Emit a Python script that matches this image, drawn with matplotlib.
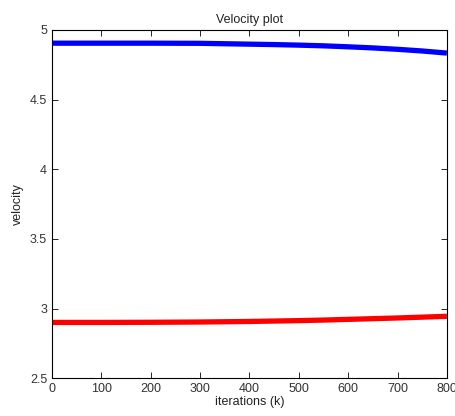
import numpy as np
import matplotlib
matplotlib.use("Agg")
from matplotlib import pyplot as plt

plt.rcParams['font.family'] = ['Liberation Sans', 'DejaVu Sans']

# iterations and velocities
iterations = [0, 100, 200, 300, 350, 400, 450, 500, 550, 600, 650, 700, 750, 800]
vel_blue = [4.905, 4.905, 4.905, 4.904, 4.901, 4.898, 4.895, 4.891, 4.886, 4.879, 4.871, 4.861, 4.849, 4.834]
vel_red = [2.900, 2.900, 2.901, 2.903, 2.905, 2.907, 2.910, 2.913, 2.917, 2.922, 2.927, 2.932, 2.938, 2.944]

xticks = [0, 100, 200, 300, 400, 500, 600, 700, 800]
yticks = [2.5, 3, 3.5, 4, 4.5, 5]
yticklabels = ['2.5', '3', '3.5', '4', '4.5', '5']

fig = plt.figure(figsize=(4.56, 4.16), dpi=100)
ax = fig.add_axes([0.114, 0.091, 0.866, 0.837])

ax.plot(iterations, vel_blue, color='#0000ff', linewidth=3.8, solid_capstyle='butt')
ax.plot(iterations, vel_red, color='#ff0000', linewidth=3.8, solid_capstyle='butt')

ax.set_xlim(0, 800)
ax.set_ylim(2.5, 5)
ax.set_xticks(xticks)
ax.set_yticks(yticks)
ax.set_yticklabels(yticklabels)
ax.tick_params(direction='in', top=True, right=True, length=4, labelsize=9,
               width=0.6, labelcolor='#333333')
for s in ax.spines.values():
    s.set_linewidth(0.8)

ax.set_title('Velocity plot', fontsize=9, pad=5, color='#222222')
ax.set_xlabel('iterations (k)', fontsize=9, labelpad=1, color='#222222')
ax.set_ylabel('velocity', fontsize=9, labelpad=4, color='#222222')

fig.savefig('out.png', dpi=100)
